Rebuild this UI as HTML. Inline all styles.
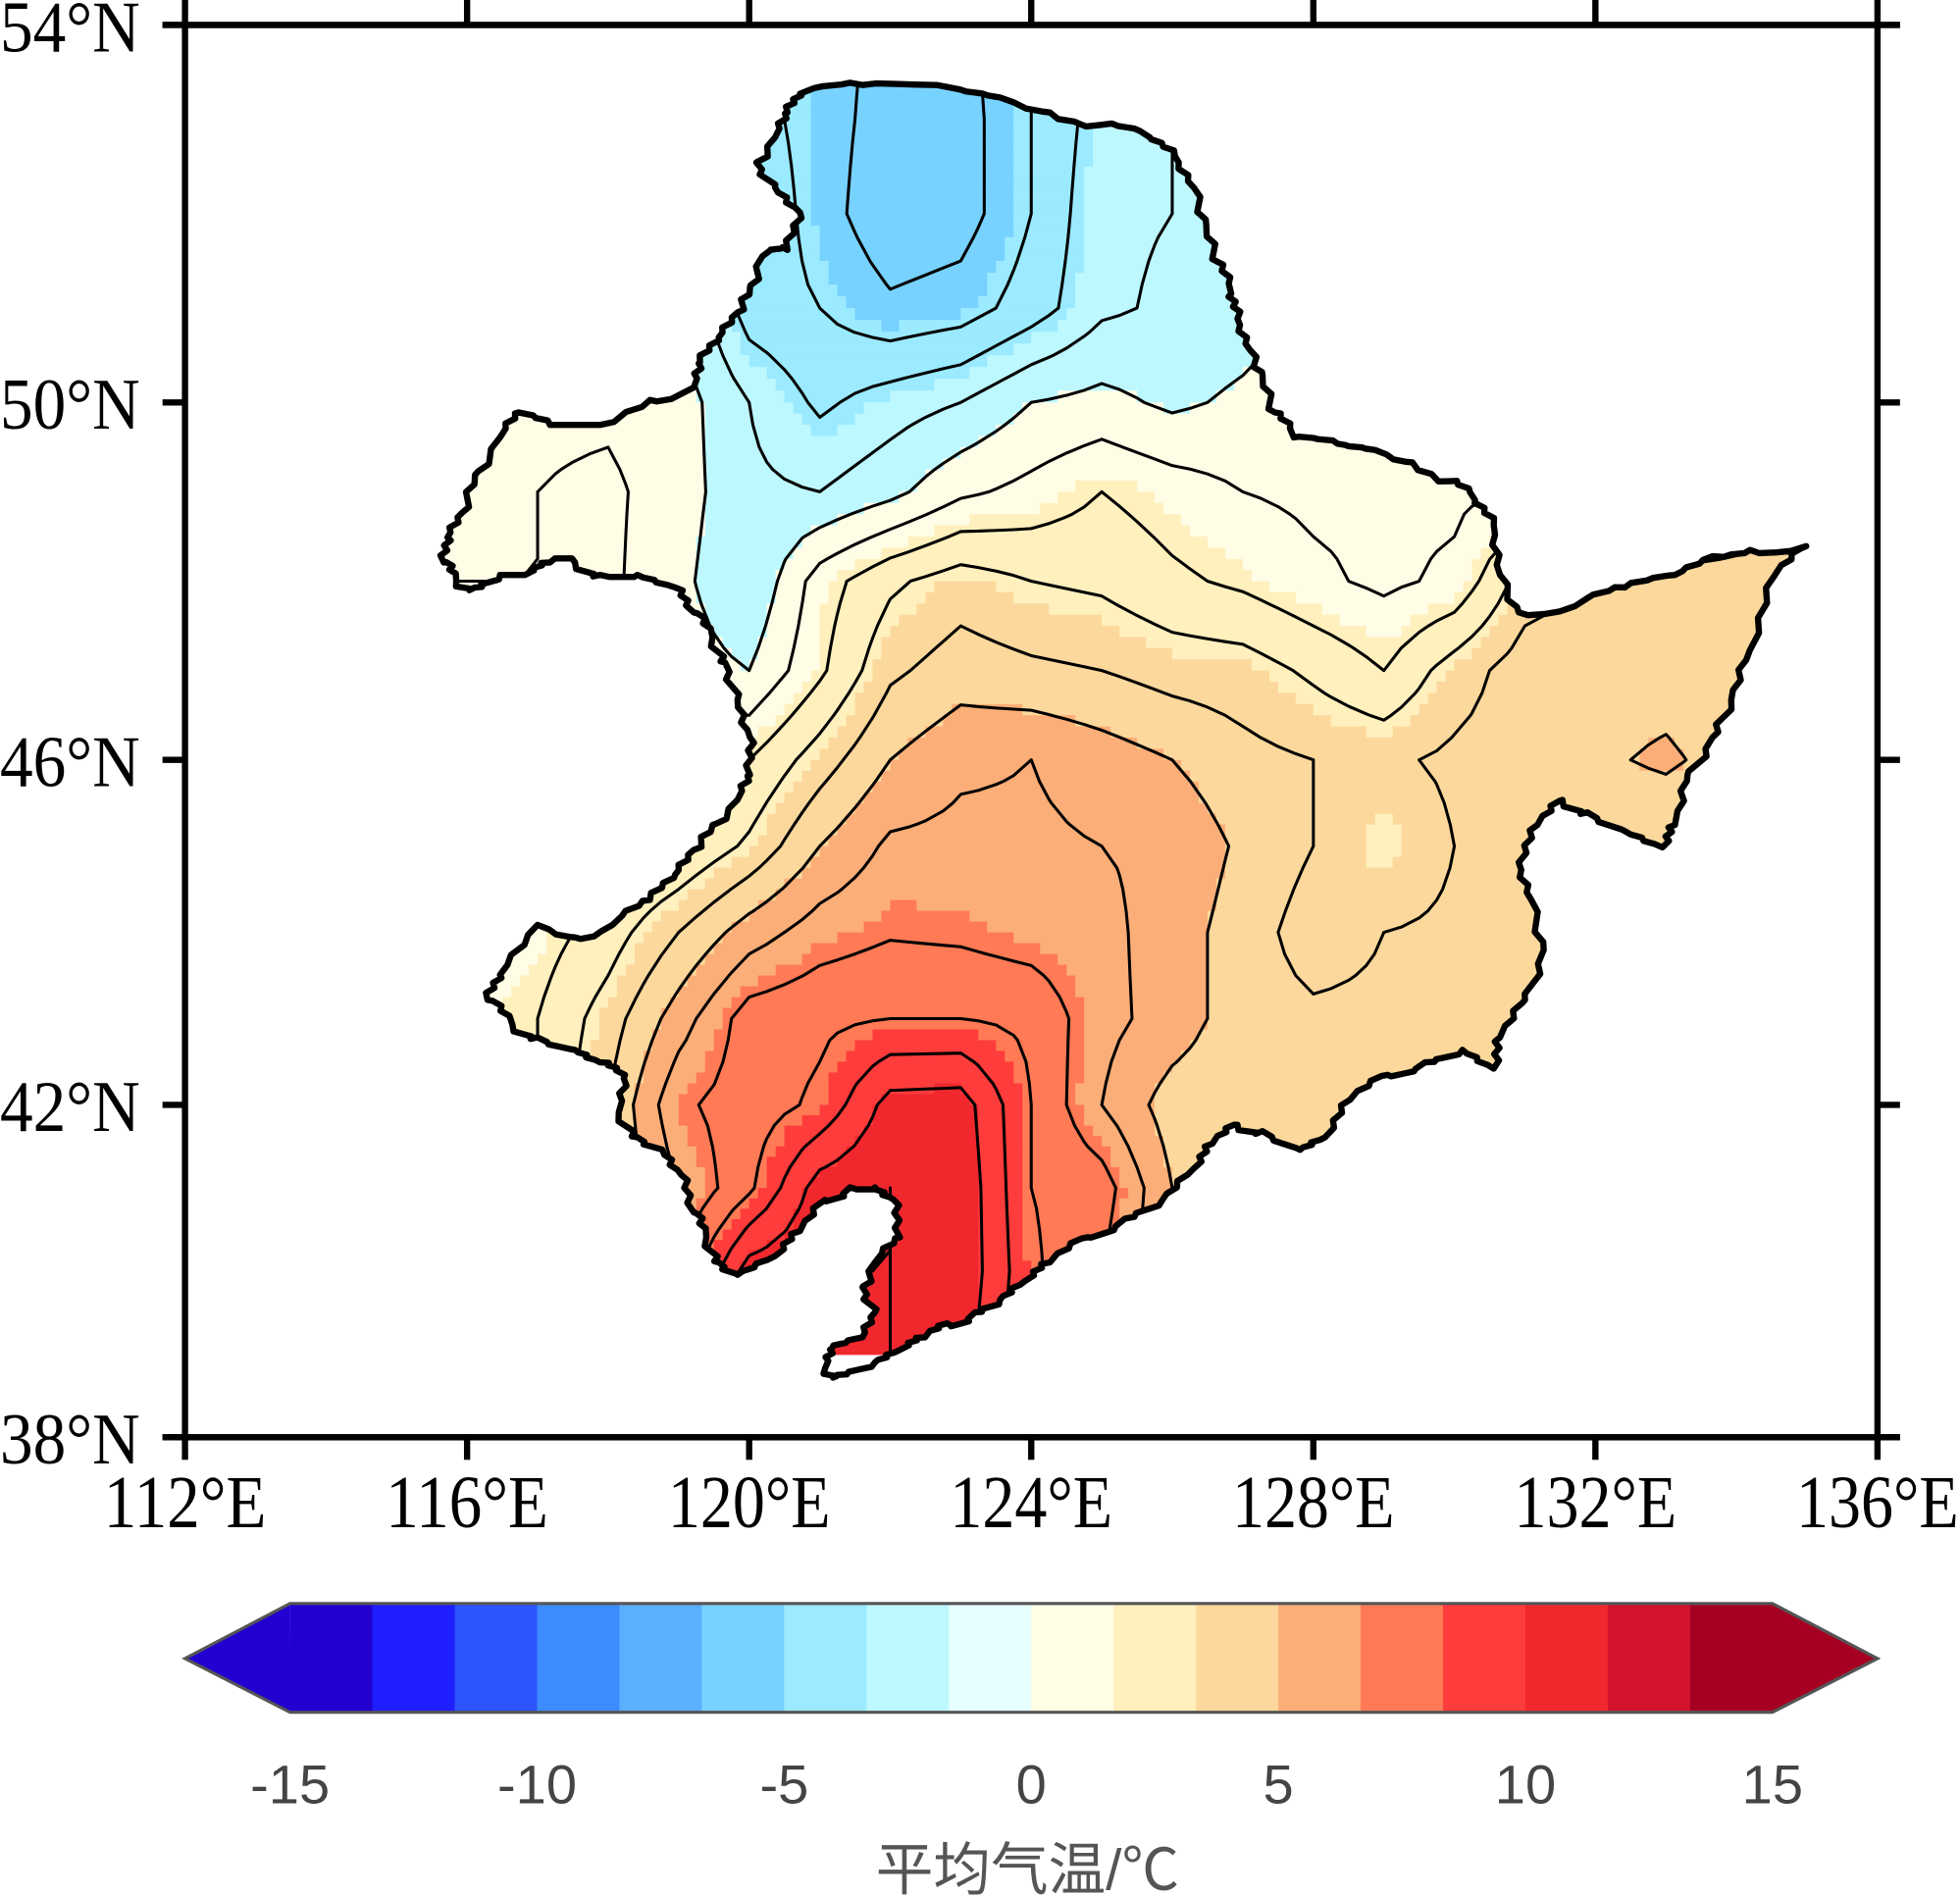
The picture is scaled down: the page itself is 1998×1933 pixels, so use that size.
<!DOCTYPE html>
<html><head><meta charset="utf-8"><style>
html,body{margin:0;padding:0;background:#fff;}
svg{display:block;}
</style></head><body>
<svg id="chart" width="1998" height="1933" viewBox="0 0 1568 1517" xmlns="http://www.w3.org/2000/svg">
<defs><clipPath id="regionClip"><path id="clipPathShape" d=""/></clipPath></defs>
<g id="fieldLayer" clip-path="url(#regionClip)"></g>
<g id="contourLayer" clip-path="url(#regionClip)"></g>
<path id="boundary" d="" fill="none" stroke="#000" stroke-width="5" stroke-linejoin="round"/>
<g id="axes"></g>
<g id="colorbar"></g>
<text x="822" y="1512" text-anchor="middle" font-family="'Liberation Sans','Noto Sans CJK SC',sans-serif" font-size="46" fill="#555">平均气温/℃</text>
</svg>
<script>
// grid data: rows lat 54 -> 39, cols lon 115 -> 135
const lons = [115,116,117,118,119,120,121,122,123,124,125,126,127,128,129,130,131,132,133,134,135];
const lats = [54,53,52,51,50,49,48,47,46,45,44,43,42,41,40,39];
const temp54 = [-1,-1,-1.5,-2,-2,-2.5,-3.5,-4.3,-4.3,-3,-1.5,-1,-0.5,-0.5,0,0,0,0,0,0,0];
const temp53 = [-1,-1,-1.5,-2,-2,-2.5,-3.5,-4.5,-4.5,-3,-1.5,-1,-0.5,-0.5,0,0,0,0,0,0,0];
const temp52 = [-0.5,-0.5,-1,-1,-1,-2,-3.5,-4.8,-4.5,-3,-1.2,-1,-0.5,0,0,0,0.5,1,1,1,1];
const temp51 = [0.5,0.5,0.5,0.5,0,-2.5,-3,-3.8,-3.5,-2.5,-1.2,-0.8,-0.5,0,0.5,0.5,1,1.5,2,2,2];
const temp50 = [0.5,0.5,0.8,0.8,0.5,-1,-2.2,-1.5,-1,0,0.3,-0.2,0.2,0.8,1,1,1.5,2,2.5,3,3];
const temp49 = [1,0.8,1,1.2,0.5,-0.8,-1,-0.3,0.8,1.3,2,1.5,1,0.8,0.8,0.8,1,2,3,3.5,4];
const temp48 = [1,1,1,1.2,0.3,-1,1.5,2.8,3.5,3,2.8,2.2,1.8,1.2,0.8,1.2,3.5,4.2,4.2,4.2,4.2];
const temp47 = [1,1,1,1,0.5,0,1.8,3.8,4.5,4.2,4,3.6,3.5,2.8,2,3.5,4.5,4.5,4.5,4.3,4];
const temp46 = [1,1,1,1,1.5,2,3.5,5,5.8,6,5.5,5,4.3,4,3.8,4.2,4.5,4.8,5.2,4.5,4];
const temp45 = [1,1,1,1.5,2,3.2,5,6.2,6.3,6.2,6,5.8,4.8,4,3,4,4.3,4.2,4,4,4];
const temp44 = [1,1.2,1.5,2.5,4,5.5,6.5,6.9,6.8,6.5,6.3,5.5,4.5,3.5,4,4.2,4.2,4,4,4,4];
const temp43 = [1.5,1.5,2,3.5,5.5,7.5,7.8,8,8,7.8,6.3,5.6,4.4,4.2,4.2,4.2,4,4,4,4,4];
const temp42 = [2,2,2,4,6.8,7.5,8.2,10.4,10.5,8,6,4.5,4.2,4,4,4,4,4,4,4,4];
const temp41 = [3,3,3,4,6,7.8,10.5,11,10.8,8,7.5,5,4.5,4,4,4,4,4,4,4,4];
const temp40 = [4,4,5,6,7,10.5,11,11,10.8,8.2,7,5,4.5,4,4,4,4,4,4,4,4];
const temp39 = [5,5,6,7,8,10,11,11,10.5,8,7,5,4.5,4,4,4,4,4,4,4,4];
const tempRows = [temp54,temp53,temp52,temp51,temp50,temp49,temp48,temp47,temp46,temp45,temp44,temp43,temp42,temp41,temp40,temp39];
const cbTicks = [-15,-10,-5,0,5,10,15];
const lonTicks = [112,116,120,124,128,132,136];
const latTicks = [54,50,46,42,38];
const cbColors = ['#2200d0','#1e1eff','#2d54ff','#3c8cff','#5aafff','#78d2ff','#9beaff','#bef8ff','#e6ffff','#fffde6','#fff0be','#fcd89c','#fcae78','#ff7a55','#ff3c3c','#f0282e','#d2142d','#a50021'];

const NS='http://www.w3.org/2000/svg';
function xOf(lon){return 148+(lon-112)*(1502-148)/24;}
const latK=[38,42,46,50,54], latY=[1150,884,608,322,20];
function yOf(lat){
  for(let i=0;i<4;i++){ if(lat<=latK[i+1]||i===3){const t=(lat-latK[i])/(latK[i+1]-latK[i]);return latY[i]+t*(latY[i+1]-latY[i]);} }
}
function bandIndex(v){let k=Math.floor((v+15)/(30/18));if(v<0)k-=1;return Math.max(0,Math.min(17,k));}
function mk(tag,attrs,parent){const e=document.createElementNS(NS,tag);for(const k in attrs)e.setAttribute(k,attrs[k]);parent.appendChild(e);return e;}

// basemap outline (projected screen coordinates of the province boundaries)
const outline=[[640,75],[690,68],[760,70],[800,78],[840,90],[880,100],[920,110],[940,125],[955,150],[965,180],[975,210],[985,235],[990,255],[1000,280],[1010,300],[1020,330],[1035,350],[1070,355],[1100,360],[1130,370],[1160,385],[1180,400],[1195,420],[1200,460],[1215,490],[1260,485],[1300,470],[1340,460],[1370,445],[1400,440],[1445,437],[1420,460],[1400,520],[1385,560],[1370,590],[1350,620],[1340,660],[1330,678],[1300,665],[1270,650],[1250,640],[1230,660],[1215,690],[1225,720],[1235,760],[1220,800],[1200,830],[1195,855],[1170,840],[1140,850],[1110,860],[1080,880],[1060,910],[1040,920],[1010,905],[990,900],[970,915],[955,935],[930,960],[900,975],[870,990],[840,1010],[820,1025],[800,1040],[780,1050],[760,1060],[740,1070],[720,1080],[700,1090],[670,1100],[660,1095],[665,1080],[690,1070],[700,1050],[690,1030],[700,1010],[720,990],[715,960],[700,950],[680,950],[660,960],[640,985],[620,1005],[590,1020],[575,1010],[565,990],[555,970],[545,940],[530,920],[510,910],[495,890],[500,860],[480,850],[460,840],[430,830],[410,820],[390,800],[400,780],[430,740],[460,750],[490,740],[520,720],[540,700],[555,680],[570,660],[590,640],[600,620],[600,590],[590,560],[580,530],[570,510],[555,490],[540,470],[510,460],[480,460],[460,450],[440,450],[420,460],[400,460],[380,470],[365,465],[355,450],[358,430],[370,410],[380,380],[400,350],[415,330],[440,340],[480,340],[520,320],[555,310],[560,290],[575,270],[590,250],[600,230],[610,205],[630,200],[640,170],[620,150],[605,130],[620,110],[630,90]];
let dStr='';
outline.forEach((p,i)=>{
  const q=outline[(i+1)%outline.length];
  dStr+=(i===0?'M':'L')+p[0]+','+p[1];
  const n=5;
  for(let j=1;j<n;j++){const t=j/n;const jx=((i*7+j*13)%5-2)*1.6, jy=((i*11+j*5)%5-2)*1.6;dStr+='L'+(p[0]+(q[0]-p[0])*t+jx).toFixed(1)+','+(p[1]+(q[1]-p[1])*t+jy).toFixed(1);}
});
dStr+='Z';
document.getElementById('boundary').setAttribute('d',dStr);
document.getElementById('clipPathShape').setAttribute('d',dStr);

function val(lon,lat){
  const fc=(lon-lons[0]), fr=(lats[0]-lat);
  let c=Math.floor(fc), r=Math.floor(fr);
  c=Math.max(0,Math.min(lons.length-2,c)); r=Math.max(0,Math.min(lats.length-2,r));
  const tx=Math.max(0,Math.min(1,fc-c)), ty=Math.max(0,Math.min(1,fr-r));
  const a=tempRows[r][c],b=tempRows[r][c+1],d=tempRows[r+1][c],e=tempRows[r+1][c+1];
  return a*(1-tx)*(1-ty)+b*tx*(1-ty)+d*(1-tx)*ty+e*tx*ty;
}
const field=document.getElementById('fieldLayer');
const SUB=8, step=1/SUB;
const nLon=(lons[lons.length-1]-lons[0])*SUB, nLat=(lats[0]-lats[lats.length-1])*SUB;
for(let r=0;r<nLat;r++){
  const la0=lats[0]-r*step, la1=la0-step;
  const y0=yOf(la0), y1=yOf(la1);
  let runStart=0, runBand=bandIndex(val(lons[0]+step/2,la0-step/2));
  for(let c=1;c<=nLon;c++){
    const b=c<nLon?bandIndex(val(lons[0]+c*step+step/2,la0-step/2)):-1;
    if(b!==runBand){
      const x0=xOf(lons[0]+runStart*step), x1=xOf(lons[0]+c*step);
      const rc=mk('rect',{x:x0.toFixed(2),y:y0.toFixed(2),width:(x1-x0+0.6).toFixed(2),height:(y1-y0+0.6).toFixed(2),fill:cbColors[runBand]},field);
      
      
      runStart=c; runBand=b;
    }
  }
}
const cl=document.getElementById('contourLayer');
let cpath='';
const levels=[-5,-4,-3,-2,-1,0,1,2,3,4,5,6,7,8,9,10,11];
const G=4, gs=1/G, gx=(lons[lons.length-1]-lons[0])*G, gy=(lats[0]-lats[lats.length-1])*G;
const grid=[];
for(let r=0;r<=gy;r++){grid.push([]);for(let c=0;c<=gx;c++)grid[r].push(val(lons[0]+c*gs,lats[0]-r*gs));}
function P(c,r){return [xOf(lons[0]+c*gs),yOf(lats[0]-r*gs)];}
levels.forEach(L=>{
  for(let r=0;r<gy;r++)for(let c=0;c<gx;c++){
    const v=[grid[r][c],grid[r][c+1],grid[r+1][c+1],grid[r+1][c]];
    const corners=[[c,r],[c+1,r],[c+1,r+1],[c,r+1]];
    const pts=[];
    for(let k=0;k<4;k++){
      const a=v[k],b=v[(k+1)%4];
      if((a<L)!==(b<L)){const t=(L-a)/(b-a);const p=corners[k],q=corners[(k+1)%4];
        const pa=P(p[0],p[1]),pb=P(q[0],q[1]);pts.push([pa[0]+(pb[0]-pa[0])*t,pa[1]+(pb[1]-pa[1])*t]);}
    }
    for(let k=0;k+1<pts.length;k+=2)cpath+='M'+pts[k][0].toFixed(1)+','+pts[k][1].toFixed(1)+'L'+pts[k+1][0].toFixed(1)+','+pts[k+1][1].toFixed(1);
  }
});
const cp=mk('path',{d:cpath,fill:'none',stroke:'#000','stroke-width':2.4,'stroke-linecap':'round'},cl);



const ax=document.getElementById('axes');
const fr=mk('rect',{x:148,y:20,width:1354,height:1130,fill:'none',stroke:'#000','stroke-width':5},ax);


mk('line',{x1:130,y1:20,x2:1520,y2:20,stroke:'#000','stroke-width':5},ax);
mk('line',{x1:130,y1:1150,x2:1520,y2:1150,stroke:'#000','stroke-width':5},ax);
lonTicks.forEach(lon=>{
  const x=xOf(lon);
  mk('line',{x1:x,y1:0,x2:x,y2:20,stroke:'#000','stroke-width':5},ax);
  mk('line',{x1:x,y1:1150,x2:x,y2:1168,stroke:'#000','stroke-width':5},ax);
  const t=mk('text',{x:x,y:1222,'text-anchor':'middle','font-family':"'Liberation Serif',serif",'font-size':60,textLength:130,lengthAdjust:'spacingAndGlyphs'},ax);
  t.textContent=lon+'°E';
  
  
});
latTicks.forEach(lat=>{
  const y=yOf(lat);
  mk('line',{x1:1502,y1:y,x2:1520,y2:y,stroke:'#000','stroke-width':5},ax);
  mk('line',{x1:130,y1:y,x2:148,y2:y,stroke:'#000','stroke-width':5},ax);
  const t=mk('text',{x:0,y:y+21,'font-family':"'Liberation Serif',serif",'font-size':58,textLength:112,lengthAdjust:'spacingAndGlyphs'},ax);
  t.textContent=lat+'°N';
  
  
});

const cb=document.getElementById('colorbar');
const cbL=232,cbR=1418,cbT=1283,cbB=1370,cbM=1327;
function cbX(v){return cbL+(v+15)*(cbR-cbL)/30;}
const segW=(cbR-cbL)/cbColors.length;
cbColors.forEach((col,i)=>{
  const s=mk('rect',{x:(cbL+i*segW).toFixed(2),y:cbT,width:(segW+0.5).toFixed(2),height:cbB-cbT,fill:col},cb);
  
  
});
const lt=mk('polygon',{points:`148,${cbM} ${cbL},${cbT} ${cbL+0.5},${cbB} `,fill:cbColors[0]},cb);


const rt=mk('polygon',{points:`1502,${cbM} ${cbR},${cbT} ${cbR-0.5},${cbB}`,fill:cbColors[17]},cb);


mk('polygon',{points:`148,${cbM} ${cbL},${cbT} ${cbR},${cbT} 1502,${cbM} ${cbR},${cbB} ${cbL},${cbB}`,fill:'none',stroke:'#555','stroke-width':2.5},cb);
cbTicks.forEach(v=>{
  const t=mk('text',{x:cbX(v),y:1443,'text-anchor':'middle','font-family':"'Liberation Sans',sans-serif",'font-size':44,fill:'#444'},cb);
  t.textContent=String(v);
  
  
});
</script>
</body></html>
